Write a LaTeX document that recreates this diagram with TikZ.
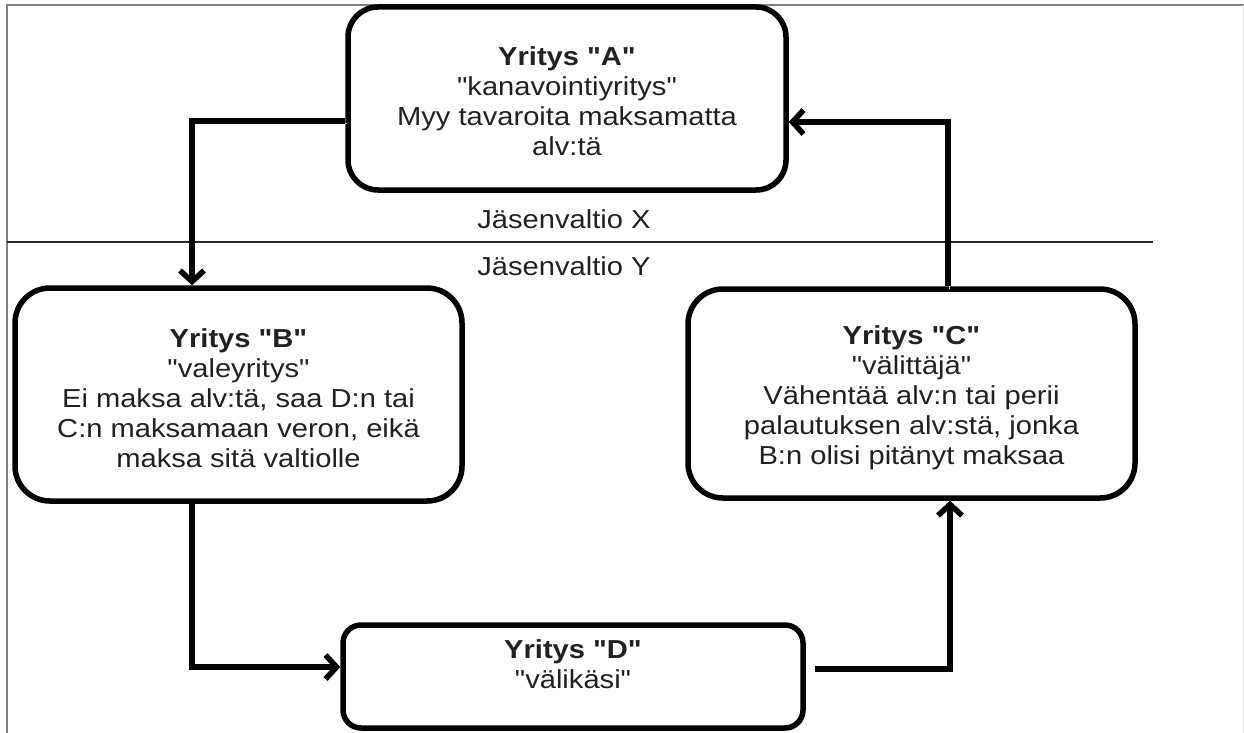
\documentclass[tikz,border=0pt]{standalone}
\usepackage{fontspec}
\setmainfont{Liberation Sans}[FakeStretch=1.12, Ligatures=TeXOff]
\usetikzlibrary{arrows.meta,shadows,calc}
\begin{document}
\begin{tikzpicture}[x=1pt,y=-1pt,
  box/.style={draw=black, line width=5.5pt, fill=white, rounded corners=#1, inner sep=0pt,
    drop shadow={shadow xshift=2pt, shadow yshift=-2.5pt, opacity=0.25, fill=black}},
  txt/.style={align=center, font=\fontsize{26}{30}\selectfont, text=black!87, inner sep=0pt},
  conn/.style={line width=5.5pt, line join=miter,
    -{Straight Barb[length=11pt,width=24pt,line width=5.5pt]},
    preaction={draw=black!18, transform canvas={xshift=1.5pt,yshift=-2.5pt}}},
  frame/.style={draw=black!50, line width=2pt},
  divider/.style={draw=black!85, line width=1.5pt}
]
\useasboundingbox (0,0) rectangle (1244,733);
% frame and divider
\draw[frame] (7,733) -- (7,5) -- (1244,5);
\draw[draw=black!12, line width=1pt] (1243,5) -- (1243,733);
\draw[divider] (7,242) -- (1153,242);
\node[txt, anchor=base] (lx) at (564,228) {Jäsenvaltio X};
\node[txt, anchor=base] (ly) at (564,275) {Jäsenvaltio Y};

% boxes
\node[box=30pt, minimum width=438pt, minimum height=183pt] (A) at (567,98.5) {};
\node[box=35pt, minimum width=447pt, minimum height=213pt] (B) at (238.5,394.5) {};
\node[box=35pt, minimum width=447pt, minimum height=209pt] (C) at (911.5,393.5) {};
\node[box=18pt, minimum width=460pt, minimum height=103pt] (D) at (573,676.5) {};

% texts
\node[txt] (At) at (567,101) {\textbf{Yritys "A"}\\"kanavointiyritys"\\Myy tavaroita maksamatta\\alv:tä};
\node[txt] (Bt) at (238.5,398) {\textbf{Yritys "B"}\\"valeyritys"\\Ei maksa alv:tä, saa D:n tai\\C:n maksamaan veron, eikä\\maksa sitä valtiolle};
\node[txt] (Ct) at (911.5,398) {\textbf{Yritys "C"}\\"välittäjä"\\Vähentää alv:n tai perii\\palautuksen alv:stä, jonka\\B:n olisi pitänyt maksaa};
\node[txt] (Dt) at (573,664) {\textbf{Yritys "D"}\\"välikäsi"};

% connector corners
\coordinate (ab) at (192,121);
\coordinate (bd) at (192,667);
\coordinate (dc) at (950,669);
\coordinate (ca) at (948,122);

\draw[conn] (A.west |- ab) -- (ab) -- (B.north -| ab);
\draw[conn] (B.south -| bd) -- (bd) -- (D.west |- bd);
\draw[conn] ($(D.east |- dc)+(9,0)$) -- (dc) -- (C.south -| dc);
\draw[conn] (C.north -| ca) -- (ca) -- (A.east |- ca);
\end{tikzpicture}
\end{document}
